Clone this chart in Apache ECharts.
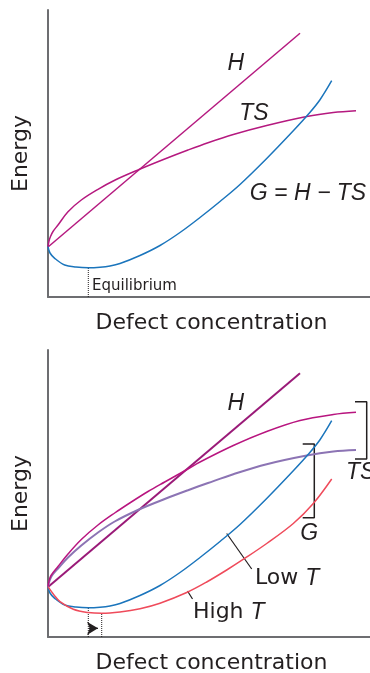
<!DOCTYPE html>
<html>
<head>
<meta charset="utf-8">
<script src="https://cdn.jsdelivr.net/npm/echarts@6/dist/echarts.min.js"></script>
<style>
html,body{margin:0;padding:0;background:#fff;}
#chart{width:370px;height:673px;}
</style>
</head>
<body>
<div id="chart"></div>
<script>
// ---- Data (axis units: x 0..322, y 0..287, arbitrary energy / concentration) ----
const H_line = [[0, 50], [252, 263.7]];

const TS_lowT_top = [
  [0, 50.3], [1, 56], [2.5, 60.5], [5, 65.5], [10, 72], [20, 85.3], [33.3, 97], [50, 107.7],
  [66.7, 116.8], [91, 127.5], [116.7, 138], [140, 147], [160, 154.3],
  [185.3, 162.5], [218.7, 171.5], [258.7, 180.5], [285.3, 184.5], [308, 186.3]
];

const G_lowT = [
  [0, 50.3], [2, 44], [6.7, 38.7], [16.7, 32], [28, 30], [40.3, 29.3], [52, 29.8],
  [62, 31], [72, 33.5], [92, 41.5], [112, 51.5], [132, 64.5], [152, 79.5], [172, 95.5],
  [192, 112.5], [218.7, 138.5], [245.3, 166.2], [260.3, 182.7], [272, 197.3], [283.7, 216.3]
];

const TS_highT = [
  [0, 50.3], [1, 56], [3, 61.5], [10, 70.5], [20, 83], [33.3, 97.5], [50, 112], [66.7, 124],
  [83.3, 135], [100, 145.5], [116.7, 155], [139, 167.5], [152, 175],
  [185.3, 191.5], [218.7, 205.5], [252, 216.5], [285.3, 222.5], [308, 224.7]
];

const TS_lowT_bottom = [
  [0, 50.3], [1.5, 56], [4, 61.5], [10, 68.5], [20, 79.5], [33.3, 91.5], [50, 104.5], [66.7, 115.5],
  [91, 127.5], [116.7, 138], [140, 146.8], [160, 154], [185.3, 162.8],
  [218.7, 172.8], [258.7, 181.5], [285.3, 185.5], [308, 187]
];

const G_highT = [
  [0, 50.3], [6, 42], [12, 35.3], [25.3, 27.7], [40, 24.5], [53.7, 23.7], [72, 25],
  [92, 28.3], [112, 33.8], [138.7, 44.5], [158.7, 55], [178.7, 67], [197, 78.8],
  [218.7, 93.5], [245.3, 113.5], [265.3, 133.5], [283.7, 158]
];

// equilibrium concentrations (x) and the minimum energies (y)
const eqLowT = [40.3, 29.3];
const eqHighT = [53.7, 23.7];

// annotation geometry (data units)
const ann = {
  arrowY: 8.7,
  tsBracket: [[307, 235.3], [318.7, 235.3], [318.7, 178], [307, 178]],
  gBracket: [[254.7, 193], [266.3, 193], [266.3, 119.3], [254.7, 119.3]],
  lowLeader: [[178.7, 103.5], [203.7, 68]],
  highLeader: [[139.5, 46], [144.5, 38]]
};

const XMAX = 322, YMAX = 287;
const TXT = '#231f20';
const REG = '"DejaVu Sans"';
const ITAL = 'italic 23px "Liberation Sans"';

const chart = echarts.init(document.getElementById('chart'), null, {renderer: 'canvas'});

function axisX(i) {
  return {gridIndex: i, type: 'value', min: 0, max: XMAX,
    axisLine: {show: true, onZero: false, lineStyle: {color: '#6d6e71', width: 2}},
    axisTick: {show: false}, axisLabel: {show: false}, splitLine: {show: false}};
}
function axisY(i) {
  return {gridIndex: i, type: 'value', min: 0, max: YMAX,
    axisLine: {show: true, onZero: false, lineStyle: {color: '#6d6e71', width: 2}},
    axisTick: {show: false}, axisLabel: {show: false}, splitLine: {show: false}};
}
function curve(i, data, color, width) {
  return {type: 'line', xAxisIndex: i, yAxisIndex: i, data: data, smooth: 0.35,
    symbol: 'none', showSymbol: false, silent: true, animation: false,
    lineStyle: {color: color, width: width}, z: 3};
}
function plain(i, data, color, width, type) {
  return {type: 'line', xAxisIndex: i, yAxisIndex: i, data: data, smooth: false,
    symbol: 'none', showSymbol: false, silent: true, animation: false,
    lineStyle: {color: color, width: width, type: type || 'solid'}, z: 2};
}

const series = [
  // top panel
  curve(0, TS_lowT_top, '#b5197f', 1.5),
  plain(0, H_line, '#b5197f', 1.5),
  curve(0, G_lowT, '#1b75bc', 1.5),
  plain(0, [[eqLowT[0], 0], eqLowT], '#231f20', 1, 'dotted'),
  // bottom panel
  curve(1, TS_lowT_bottom, '#8c74b4', 2),
  curve(1, TS_highT, '#b8157f', 1.5),
  plain(1, H_line, '#9a1a78', 2),
  curve(1, G_lowT, '#1b75bc', 1.5),
  curve(1, G_highT, '#ef4b5b', 1.5),
  plain(1, [[eqLowT[0], 0], eqLowT], '#231f20', 1, 'dotted'),
  plain(1, [[eqHighT[0], 0], eqHighT], '#231f20', 1, 'dotted'),
  {type: 'line', xAxisIndex: 1, yAxisIndex: 1, smooth: false, silent: true, animation: false,
    showSymbol: true, symbol: 'none',
    data: [{value: [eqLowT[0] + 0.5, ann.arrowY], symbol: 'none'},
           {value: [(eqLowT[0] + eqHighT[0]) / 2 + 3, ann.arrowY], symbol: 'arrow', symbolSize: [10, 11], symbolRotate: -90}],
    itemStyle: {color: '#231f20'}, lineStyle: {color: '#231f20', width: 1.2}, z: 4},
  plain(1, ann.tsBracket, '#231f20', 1.5),
  plain(1, ann.gBracket, '#231f20', 1.5),
  plain(1, ann.lowLeader, '#231f20', 1.2),
  plain(1, ann.highLeader, '#231f20', 1.2)
];

function txt(x, y, text, font, align) {
  return {type: 'text', x: x, y: y, silent: true,
    style: {text: text, x: 0, y: 0, font: font, fill: TXT,
      align: align || 'center', verticalAlign: 'middle', textAlign: align || 'center', textVerticalAlign: 'middle'}};
}
function rich(x, y, a, b) {
  return {type: 'text', x: x, y: y, silent: true,
    style: {text: '{a|' + a + '}{b|' + b + '}', x: 0, y: 0, fill: TXT,
      align: 'left', verticalAlign: 'middle',
      rich: {a: {font: '22px ' + REG, fill: TXT}, b: {font: ITAL, fill: TXT}}}};
}

const graphics = [
  // axis names
  Object.assign(txt(21.5, 153.5, 'Energy', '22px ' + REG), {rotation: Math.PI / 2}),
  Object.assign(txt(21.5, 493.5, 'Energy', '22px ' + REG), {rotation: Math.PI / 2}),
  txt(211.5, 323, 'Defect concentration', '22px ' + REG),
  txt(211.5, 663, 'Defect concentration', '22px ' + REG),
  // top labels
  txt(235.8, 64, 'H', ITAL),
  txt(254, 114, 'TS', ITAL),
  txt(308, 194, 'G = H \u2212 TS', ITAL),
  txt(92, 286, 'Equilibrium', '15px ' + REG, 'left'),
  // bottom labels
  txt(235.8, 404, 'H', ITAL),
  txt(346, 473, 'TS', ITAL, 'left'),
  txt(309.2, 534, 'G', ITAL),
  rich(255, 578.5, 'Low ', 'T'),
  rich(193, 612.5, 'High ', 'T')
];

chart.setOption({
  animation: false,
  backgroundColor: '#ffffff',
  grid: [
    {left: 48, top: 10, width: 322, height: 287},
    {left: 48, top: 350, width: 322, height: 287}
  ],
  xAxis: [axisX(0), axisX(1)],
  yAxis: [axisY(0), axisY(1)],
  series: series,
  graphic: graphics
});
</script>
</body>
</html>
